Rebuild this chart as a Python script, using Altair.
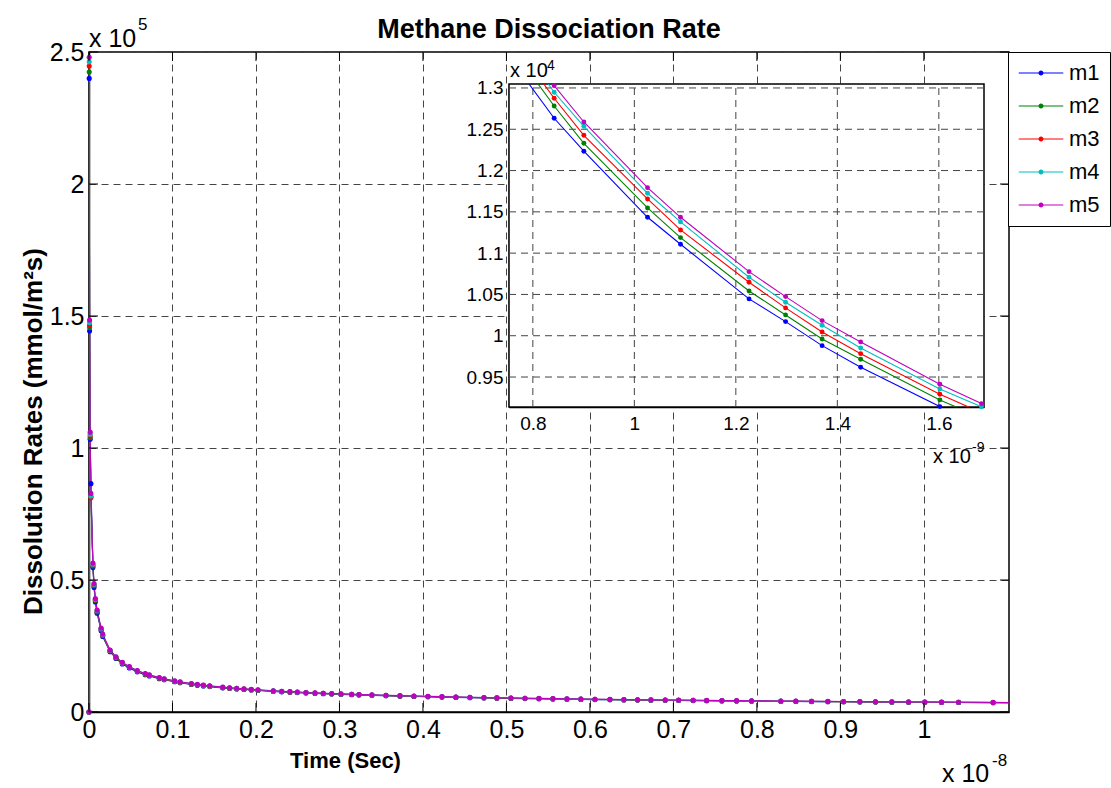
import altair as alt
import pandas as pd

FONT = "Liberation Sans"

# ---------------- data ----------------
SERIES = ["m1", "m2", "m3", "m4", "m5"]
COLORS = ["#0000ff", "#008000", "#ff0000", "#00bfbf", "#bf00bf"]

# time in units of 1e-9 s
TIME_NS = [0, 0.0025, 0.007, 0.014, 0.023, 0.047, 0.060, 0.076, 0.097, 0.145,
           0.164, 0.252, 0.323, 0.399, 0.483, 0.578, 0.674, 0.722, 0.842, 0.9005,
           1.026, 1.091, 1.226, 1.298, 1.370, 1.446, 1.602, 1.684, 1.769, 1.856,
           1.944, 2.024, 2.207, 2.308, 2.407, 2.495, 2.599, 2.707, 2.806, 2.907,
           3.018, 3.146, 3.234, 3.389, 3.557, 3.725, 3.892, 4.060, 4.228, 4.395,
           4.563, 4.731, 4.886, 5.054, 5.222, 5.389, 5.557, 5.725, 5.892, 6.060,
           6.240, 6.407, 6.571, 6.731, 6.902, 7.062, 7.237, 7.398, 7.581, 7.757,
           7.937, 8.287, 8.467, 8.655, 8.850, 9.038, 9.234, 9.421, 9.617, 9.817,
           10.012, 10.212, 10.416, 10.830, 11.2]

# dissolution rate in units of 1e4 mmol/m^2 s
M1 = [0, 24.00, 14.43, 10.33, 8.65, 5.47, 4.72, 4.17, 3.74, 3.08,
      2.86, 2.28, 2.03, 1.82, 1.67, 1.52, 1.412, 1.364, 1.2633, 1.2234,
      1.1434, 1.1108, 1.0446, 1.0171, 0.9880, 0.9619, 0.9142, 0.8903, 0.871, 0.851,
      0.831, 0.815, 0.780, 0.763, 0.747, 0.734, 0.719, 0.704, 0.692, 0.680,
      0.667, 0.654, 0.645, 0.630, 0.615, 0.600, 0.588, 0.575, 0.564, 0.553,
      0.542, 0.533, 0.525, 0.516, 0.507, 0.500, 0.492, 0.484, 0.477, 0.470,
      0.464, 0.458, 0.452, 0.447, 0.441, 0.437, 0.431, 0.426, 0.421, 0.416,
      0.411, 0.403, 0.399, 0.394, 0.390, 0.386, 0.381, 0.377, 0.373, 0.370,
      0.367, 0.363, 0.359, 0.352, 0.346]
M2 = [0, 24.24, 14.56, 10.39, 8.15, 5.53, 4.78, 4.22, 3.79, 3.12,
      2.89, 2.31, 2.05, 1.84, 1.69, 1.54, 1.428, 1.379, 1.2782, 1.2330,
      1.1547, 1.1188, 1.0542, 1.0252, 0.9961, 0.9715, 0.9223, 0.9004, 0.881, 0.860,
      0.841, 0.824, 0.789, 0.772, 0.755, 0.743, 0.727, 0.712, 0.699, 0.688,
      0.675, 0.661, 0.652, 0.637, 0.622, 0.607, 0.594, 0.582, 0.570, 0.559,
      0.548, 0.539, 0.531, 0.522, 0.513, 0.505, 0.497, 0.490, 0.483, 0.476,
      0.469, 0.463, 0.457, 0.452, 0.446, 0.441, 0.436, 0.431, 0.426, 0.421,
      0.416, 0.407, 0.403, 0.398, 0.394, 0.390, 0.386, 0.382, 0.378, 0.374,
      0.371, 0.367, 0.363, 0.356, 0.350]
M3 = [0, 24.47, 14.65, 10.45, 8.12, 5.57, 4.81, 4.25, 3.81, 3.14,
      2.91, 2.32, 2.06, 1.86, 1.70, 1.55, 1.439, 1.389, 1.2875, 1.2427,
      1.1656, 1.1281, 1.0648, 1.0337, 1.0046, 0.9783, 0.9292, 0.9068, 0.887, 0.866,
      0.847, 0.830, 0.794, 0.778, 0.761, 0.748, 0.732, 0.717, 0.704, 0.693,
      0.680, 0.666, 0.657, 0.641, 0.626, 0.612, 0.599, 0.586, 0.574, 0.563,
      0.552, 0.542, 0.535, 0.526, 0.517, 0.509, 0.501, 0.493, 0.486, 0.479,
      0.472, 0.466, 0.460, 0.455, 0.450, 0.445, 0.439, 0.434, 0.429, 0.424,
      0.419, 0.410, 0.406, 0.401, 0.397, 0.393, 0.388, 0.384, 0.380, 0.376,
      0.373, 0.370, 0.366, 0.359, 0.353]
M4 = [0, 24.63, 14.75, 10.52, 8.18, 5.60, 4.84, 4.27, 3.84, 3.16,
      2.93, 2.34, 2.08, 1.87, 1.71, 1.56, 1.447, 1.398, 1.2948, 1.2536,
      1.1725, 1.1378, 1.0708, 1.0406, 1.0127, 0.9852, 0.9356, 0.9140, 0.893, 0.872,
      0.852, 0.835, 0.799, 0.782, 0.765, 0.752, 0.737, 0.722, 0.709, 0.697,
      0.684, 0.670, 0.661, 0.645, 0.630, 0.615, 0.602, 0.589, 0.578, 0.567,
      0.556, 0.546, 0.538, 0.529, 0.520, 0.512, 0.504, 0.496, 0.489, 0.482,
      0.475, 0.469, 0.463, 0.458, 0.452, 0.447, 0.441, 0.436, 0.431, 0.426,
      0.421, 0.413, 0.409, 0.404, 0.400, 0.396, 0.391, 0.387, 0.383, 0.379,
      0.376, 0.372, 0.368, 0.361, 0.355]
M5 = [0, 24.80, 14.85, 10.60, 8.28, 5.64, 4.87, 4.30, 3.86, 3.18,
      2.95, 2.35, 2.09, 1.88, 1.72, 1.57, 1.456, 1.406, 1.3028, 1.2588,
      1.1793, 1.1434, 1.0776, 1.0474, 1.0183, 0.9925, 0.9413, 0.9178, 0.898, 0.877,
      0.857, 0.840, 0.804, 0.787, 0.770, 0.757, 0.741, 0.726, 0.713, 0.701,
      0.688, 0.674, 0.665, 0.649, 0.634, 0.619, 0.606, 0.593, 0.581, 0.570,
      0.559, 0.549, 0.541, 0.532, 0.523, 0.515, 0.507, 0.499, 0.492, 0.485,
      0.478, 0.472, 0.466, 0.461, 0.455, 0.450, 0.444, 0.439, 0.434, 0.429,
      0.424, 0.415, 0.411, 0.406, 0.402, 0.398, 0.393, 0.389, 0.385, 0.381,
      0.378, 0.374, 0.370, 0.363, 0.357]

MAIN_X_TICKS = [0, 0.1, 0.2, 0.3, 0.4, 0.5, 0.6, 0.7, 0.8, 0.9, 1.0]
MAIN_Y_TICKS = [0, 0.5, 1.0, 1.5, 2.0, 2.5]
INSET_X_TICKS = [0.8, 1.0, 1.2, 1.4, 1.6]
INSET_Y_TICKS = [0.95, 1.0, 1.05, 1.1, 1.15, 1.2, 1.25, 1.3]

MAIN_X_DOMAIN = [0, 1.102]      # x 1e-8 s
MAIN_Y_DOMAIN = [0, 2.5]        # x 1e5
INSET_X_DOMAIN = [0.753, 1.689]  # x 1e-9 s
INSET_Y_DOMAIN = [0.9137, 1.3048]  # x 1e4

# ---------------- layout ----------------
W, H = 920, 660
INSET_X_RANGE = [420, 895]
INSET_Y_RANGE = [355, 32]

rows = []
for name, vals in zip(SERIES, [M1, M2, M3, M4, M5]):
    if len(vals) != len(TIME_NS):
        raise ValueError(f"length mismatch in {name}: {len(vals)} vs {len(TIME_NS)}")
    for k, (t, v) in enumerate(zip(TIME_NS, vals)):
        rows.append({"series": name, "s2": name, "k": k, "t9": t, "t8": t / 10.0,
                     "v4": v, "v5": v / 10.0})
df = pd.DataFrame(rows)

LEGEND_PATH = ("M-4.45,-0.1H4.45V0.1H-4.45Z "
               "M0.5,0A0.5,0.5,0,1,1,-0.5,0A0.5,0.5,0,1,1,0.5,0Z")

color_legend = alt.Color(
    "series:N", scale=alt.Scale(domain=SERIES, range=COLORS),
    legend=alt.Legend(title=None, orient="none", legendX=919, legendY=0,
                      direction="vertical", symbolType=LEGEND_PATH, symbolSize=100,
                      symbolStrokeWidth=0, symbolOpacity=1, symbolOffset=12,
                      labelOffset=17, labelFontSize=22, labelFont=FONT,
                      labelColor="black", padding=10, rowPadding=11,
                      labelExpr="datum.label + '        '",
                      fillColor="white", strokeColor="black"))
# separate channels (data-driven domain m1..m5) for lines / inset markers, no legend
stroke_enc = alt.Stroke("s2:N", scale=alt.Scale(range=COLORS), legend=None)
fill_enc = alt.Fill("s2:N", scale=alt.Scale(range=COLORS), legend=None)

GRID_DASH = [7, 5]
GRID_COLOR = "#444444"

main_xscale = alt.Scale(domain=MAIN_X_DOMAIN, nice=False, zero=False)
main_yscale = alt.Scale(domain=MAIN_Y_DOMAIN, nice=False, zero=False)

main_x_axis = alt.Axis(values=MAIN_X_TICKS, format="~g", labelFontSize=25, labelFont=FONT,
                       labelColor="black", labelPadding=5, tickSize=0, labelFlush=False,
                       labelOverlap=False, domainColor="black", domainWidth=1.5,
                       grid=True, gridColor=GRID_COLOR, gridDash=GRID_DASH, gridWidth=1,
                       title="Time (Sec)", titleFont=FONT, titleFontSize=22,
                       titleFontWeight="bold", titleColor="black", titleX=256, titleY=55,
                       titleAlign="center", titleBaseline="alphabetic")
main_y_axis = alt.Axis(values=MAIN_Y_TICKS, format="~g", labelFontSize=25, labelFont=FONT,
                       labelColor="black", labelPadding=5, tickSize=0, labelFlush=False,
                       labelOverlap=False, domainColor="black", domainWidth=1.5,
                       grid=True, gridColor=GRID_COLOR, gridDash=GRID_DASH, gridWidth=1,
                       title="Dissolution Rates (mmol/m²s)", titleFont=FONT,
                       titleFontSize=26, titleFontWeight="bold", titleColor="black",
                       titleAngle=270, titleX=-56, titleY=379, titleAlign="center",
                       titleBaseline="middle")

MX = lambda f: alt.X(f, scale=main_xscale, axis=main_x_axis)
MY = lambda f: alt.Y(f, scale=main_yscale, axis=main_y_axis)


def txt(s, x, y, size, weight="normal", align="left"):
    return alt.Chart(pd.DataFrame({"s": [s]})).mark_text(
        align=align, baseline="alphabetic", fontSize=size, fontWeight=weight,
        font=FONT, color="black").encode(text="s:N", x=alt.value(x), y=alt.value(y))


base = alt.Chart(df)

main_lines = base.mark_line(strokeWidth=1.1, clip=True).encode(
    x=MX("t8:Q"), y=MY("v5:Q"), stroke=stroke_enc, order="k:Q")

main_points = base.transform_filter(
    f"datum.t8 <= {MAIN_X_DOMAIN[1]}").mark_point(filled=True, size=26, opacity=1).encode(
    x=MX("t8:Q"), y=MY("v5:Q"), color=color_legend)

xt = pd.DataFrame({"v": MAIN_X_TICKS})
yt = pd.DataFrame({"v": MAIN_Y_TICKS})
tick_bottom = alt.Chart(xt).mark_rule(color="black", strokeWidth=1).encode(
    x=MX("v:Q"), y=alt.value(H), y2=alt.value(H - 9))
tick_top = alt.Chart(xt).mark_rule(color="black", strokeWidth=1).encode(
    x=MX("v:Q"), y=alt.value(0), y2=alt.value(9))
tick_left = alt.Chart(yt).mark_rule(color="black", strokeWidth=1).encode(
    y=MY("v:Q"), x=alt.value(0), x2=alt.value(9))
tick_right = alt.Chart(yt).mark_rule(color="black", strokeWidth=1).encode(
    y=MY("v:Q"), x=alt.value(W - 9), x2=alt.value(W))

main_layer = alt.layer(
    main_lines, main_points, tick_bottom, tick_top, tick_left, tick_right,
    txt("Methane Dissociation Rate", W / 2, -14, 27, "bold", "center"),
    txt("x 10", 0, -5.5, 25), txt("5", 49, -22, 17),
    txt("x 10", 853, 730, 25), txt("-8", 903, 714, 17),
)

# ---------------- inset ----------------
ins_xscale = alt.Scale(domain=INSET_X_DOMAIN, range=INSET_X_RANGE, nice=False, zero=False)
ins_yscale = alt.Scale(domain=INSET_Y_DOMAIN, range=INSET_Y_RANGE, nice=False, zero=False)

ins_x_axis = alt.Axis(values=INSET_X_TICKS, format="~g", orient="bottom",
                      offset=-(H - INSET_Y_RANGE[0]), labelFontSize=19, labelFont=FONT,
                      labelColor="black", labelPadding=7, tickSize=0, labelFlush=False,
                      labelOverlap=False, domainColor="black", domainWidth=1.5,
                      grid=False, title=None)
ins_y_axis = alt.Axis(values=INSET_Y_TICKS, format="~g", orient="left",
                      offset=-INSET_X_RANGE[0], labelFontSize=19, labelFont=FONT,
                      labelColor="black", labelPadding=6, tickSize=0, labelFlush=False,
                      labelOverlap=False, domainColor="black", domainWidth=1.5,
                      grid=False, title=None)

IX = lambda f: alt.X(f, scale=ins_xscale, axis=ins_x_axis)
IY = lambda f: alt.Y(f, scale=ins_yscale, axis=ins_y_axis)

box = pd.DataFrame({"x0": [INSET_X_DOMAIN[0]], "x1": [INSET_X_DOMAIN[1]],
                    "y0": [INSET_Y_DOMAIN[0]], "y1": [INSET_Y_DOMAIN[1]]})
ins_box = alt.Chart(box).mark_rect(fill="white", stroke="black", strokeWidth=1.5).encode(
    x=IX("x0:Q"), x2="x1:Q", y=IY("y0:Q"), y2="y1:Q")

gx = pd.DataFrame({"v": INSET_X_TICKS, "lo": INSET_Y_DOMAIN[0], "hi": INSET_Y_DOMAIN[1]})
gy = pd.DataFrame({"v": INSET_Y_TICKS, "lo": INSET_X_DOMAIN[0], "hi": INSET_X_DOMAIN[1]})
ins_gx = alt.Chart(gx).mark_rule(color=GRID_COLOR, strokeDash=GRID_DASH, strokeWidth=1).encode(
    x=IX("v:Q"), y=IY("lo:Q"), y2="hi:Q")
ins_gy = alt.Chart(gy).mark_rule(color=GRID_COLOR, strokeDash=GRID_DASH, strokeWidth=1).encode(
    y=IY("v:Q"), x=IX("lo:Q"), x2="hi:Q")

clip_path = "pathShape('M{0},{1}H{2}V{3}H{0}Z')".format(
    INSET_X_RANGE[0], INSET_Y_RANGE[1], INSET_X_RANGE[1], INSET_Y_RANGE[0])

ins_lines = base.transform_filter("datum.t9 >= 0.5 && datum.t9 <= 2.0").mark_line(
    strokeWidth=1.1, clip=alt.ExprRef(clip_path)).encode(
    x=IX("t9:Q"), y=IY("v4:Q"), stroke=stroke_enc, order="k:Q")

ins_points = base.transform_filter(
    f"datum.t9 >= {INSET_X_DOMAIN[0]} && datum.t9 <= {INSET_X_DOMAIN[1]} && "
    f"datum.v4 >= {INSET_Y_DOMAIN[0]} && datum.v4 <= {INSET_Y_DOMAIN[1]}"
).mark_point(filled=True, size=24, opacity=1).encode(
    x=IX("t9:Q"), y=IY("v4:Q"), fill=fill_enc)

inset_layer = alt.layer(
    ins_box, ins_gx, ins_gy, ins_lines, ins_points,
    txt("x 10", 421, 25, 20), txt("4", 458, 18, 14),
    txt("x 10", 844, 411, 20), txt("-9", 883, 400, 14),
)

chart = alt.layer(main_layer, inset_layer).resolve_scale(
    x="independent", y="independent"
).properties(
    width=W, height=H,
    autosize=alt.AutoSizeParams(type="none"),
    padding={"left": 89, "top": 52, "right": 102, "bottom": 76},
    background="white",
).configure_view(stroke="black", strokeWidth=1.5)

chart.save("out.html", embed_options={"renderer": "svg", "actions": False})
